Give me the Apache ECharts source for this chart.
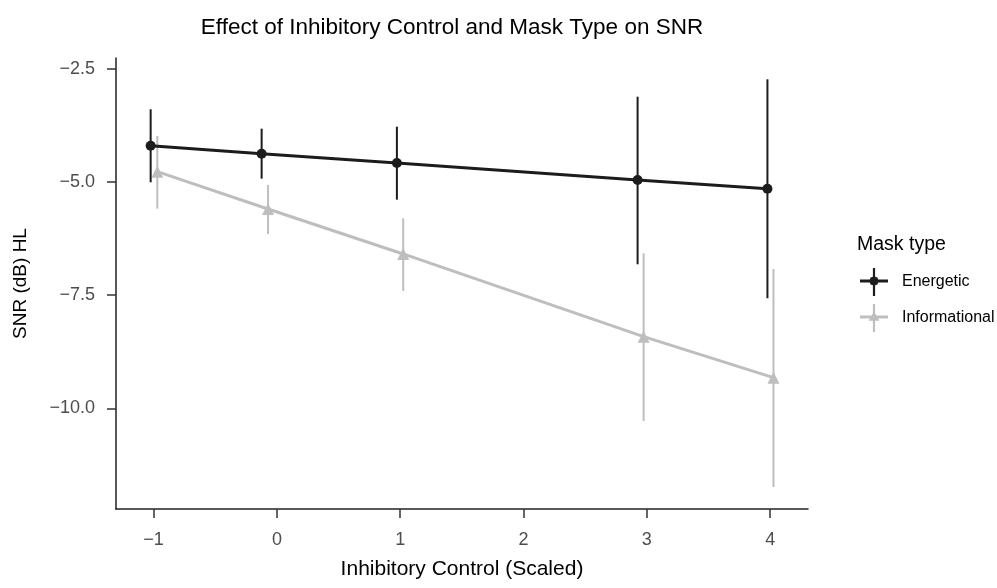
<!DOCTYPE html>
<html>
<head>
<meta charset="utf-8">
<script src="https://cdn.jsdelivr.net/npm/echarts@6/dist/echarts.min.js"></script>
<style>html,body{margin:0;padding:0;background:#fff}#c{width:997px;height:588px}</style>
</head>
<body>
<div id="c"></div>
<script>
// ---- data ----
const xTicks = [-1, 0, 1, 2, 3, 4];
const yTicks = [-10, -7.5, -5, -2.5];

const energeticX  = [-1.024, -0.124, 0.973, 2.925, 3.978];
const energeticY  = [-4.195, -4.372, -4.577, -4.953, -5.145];
const energeticLo = [-5.004, -4.924, -5.388, -6.816, -7.567];
const energeticHi = [-3.390, -3.819, -3.775, -3.112, -2.728];

const informationalX  = [-0.970, -0.072, 1.024, 2.974, 4.027];
const informationalY  = [-4.770, -5.594, -6.588, -8.416, -9.322];
const informationalLo = [-5.587, -6.146, -7.406, -10.279, -11.740];
const informationalHi = [-3.980, -5.064, -5.800, -6.573, -6.920];

const seriesNames = ['Energetic', 'Informational'];
const legendTitle = 'Mask type';
const chartTitle = 'Effect of Inhibitory Control and Mask Type on SNR';
const xName = 'Inhibitory Control (Scaled)';
const yName = 'SNR (dB) HL';

// ---- styling ----
const colE = '#1c1c1c';
const colI = '#bebebe';
const FONT = 'Liberation Sans, Arial, sans-serif';

const pts = (xs, ys) => xs.map((x, i) => [x, ys[i]]);
const bars = (xs, lo, hi) => xs.map((x, i) => [x, lo[i], hi[i]]);

function errRender(color) {
  return function (params, api) {
    const x = api.value(0);
    const a = api.coord([x, api.value(1)]);
    const b = api.coord([x, api.value(2)]);
    return {
      type: 'line',
      shape: { x1: a[0], y1: a[1], x2: b[0], y2: b[1] },
      style: { stroke: color, lineWidth: 2 }
    };
  };
}

const iconE = 'path://M0,11.4 L28,11.4 L28,14.6 L0,14.6 Z M12.9,0 L15.1,0 L15.1,28 L12.9,28 Z M14,8.2 L17.4,9.6 L18.8,13 L17.4,16.4 L14,17.8 L10.6,16.4 L9.2,13 L10.6,9.6 Z';
const iconI = 'path://M0,11.4 L28,11.4 L28,14.6 L0,14.6 Z M12.9,0 L15.1,0 L15.1,28 L12.9,28 Z M14,7.4 L19.4,16.8 L8.6,16.8 Z';

const fmtMinus = v => (v < 0 ? '\u2212' : '') + Math.abs(v);
const fmtY = v => (v < 0 ? '\u2212' : '') + Math.abs(v).toFixed(1);

const chart = echarts.init(document.getElementById('c'), null, { renderer: 'canvas' });
chart.setOption({
  animation: false,
  backgroundColor: '#ffffff',
  textStyle: { fontFamily: FONT },
  graphic: [
    { type: 'text', x: 452, y: 28,
      style: { text: chartTitle, fill: '#000', fontSize: 22.5, fontFamily: FONT, align: 'center', verticalAlign: 'middle' } },
    { type: 'text', x: 857, y: 245,
      style: { text: legendTitle, fill: '#000', fontSize: 19.5, fontFamily: FONT, align: 'left', verticalAlign: 'middle' } }
  ],
  legend: {
    orient: 'vertical',
    left: 860,
    top: 268,
    padding: 0,
    itemWidth: 28,
    itemHeight: 28,
    itemGap: 8,
    selectedMode: false,
    data: [
      { name: seriesNames[0], icon: iconE },
      { name: seriesNames[1], icon: iconI }
    ],
    itemStyle: { borderWidth: 0 },
    textStyle: { fontSize: 16, color: '#000', fontFamily: FONT, padding: [0, 0, 0, 9] }
  },
  grid: { left: 116, right: 189, top: 58, bottom: 79 },
  xAxis: {
    type: 'value',
    min: -1.305,
    max: 4.307,
    name: xName,
    nameLocation: 'middle',
    nameGap: 50,
    nameTextStyle: { fontSize: 21, color: '#000', fontFamily: FONT },
    axisLine: { show: true, onZero: false, lineStyle: { color: '#222', width: 1.5 } },
    axisTick: { show: true, length: 9, customValues: xTicks, lineStyle: { color: '#333', width: 1.5 } },
    axisLabel: { customValues: xTicks, formatter: fmtMinus, margin: 22, fontSize: 18, color: '#4d4d4d', fontFamily: FONT },
    splitLine: { show: false }
  },
  yAxis: {
    type: 'value',
    min: -12.225,
    max: -2.257,
    name: yName,
    nameLocation: 'middle',
    nameGap: 86,
    nameRotate: 90,
    nameTextStyle: { fontSize: 19, color: '#000', fontFamily: FONT },
    axisLine: { show: true, onZero: false, lineStyle: { color: '#222', width: 1.5 } },
    axisTick: { show: true, length: 9, customValues: yTicks, lineStyle: { color: '#333', width: 1.5 } },
    axisLabel: { customValues: yTicks, formatter: fmtY, margin: 21, fontSize: 18, color: '#4d4d4d', fontFamily: FONT },
    splitLine: { show: false }
  },
  series: [
    {
      name: 'Informational CI', type: 'custom', z: 2,
      renderItem: errRender(colI),
      encode: { x: 0, y: [1, 2] },
      data: bars(informationalX, informationalLo, informationalHi)
    },
    {
      name: seriesNames[1], type: 'line', z: 3,
      color: colI,
      data: pts(informationalX, informationalY),
      symbol: 'triangle', symbolSize: 12,
      lineStyle: { color: colI, width: 3 },
      itemStyle: { color: colI }
    },
    {
      name: 'Energetic CI', type: 'custom', z: 4,
      renderItem: errRender(colE),
      encode: { x: 0, y: [1, 2] },
      data: bars(energeticX, energeticLo, energeticHi)
    },
    {
      name: seriesNames[0], type: 'line', z: 5,
      color: colE,
      data: pts(energeticX, energeticY),
      symbol: 'circle', symbolSize: 10,
      lineStyle: { color: colE, width: 3 },
      itemStyle: { color: colE }
    }
  ]
});
</script>
</body>
</html>
